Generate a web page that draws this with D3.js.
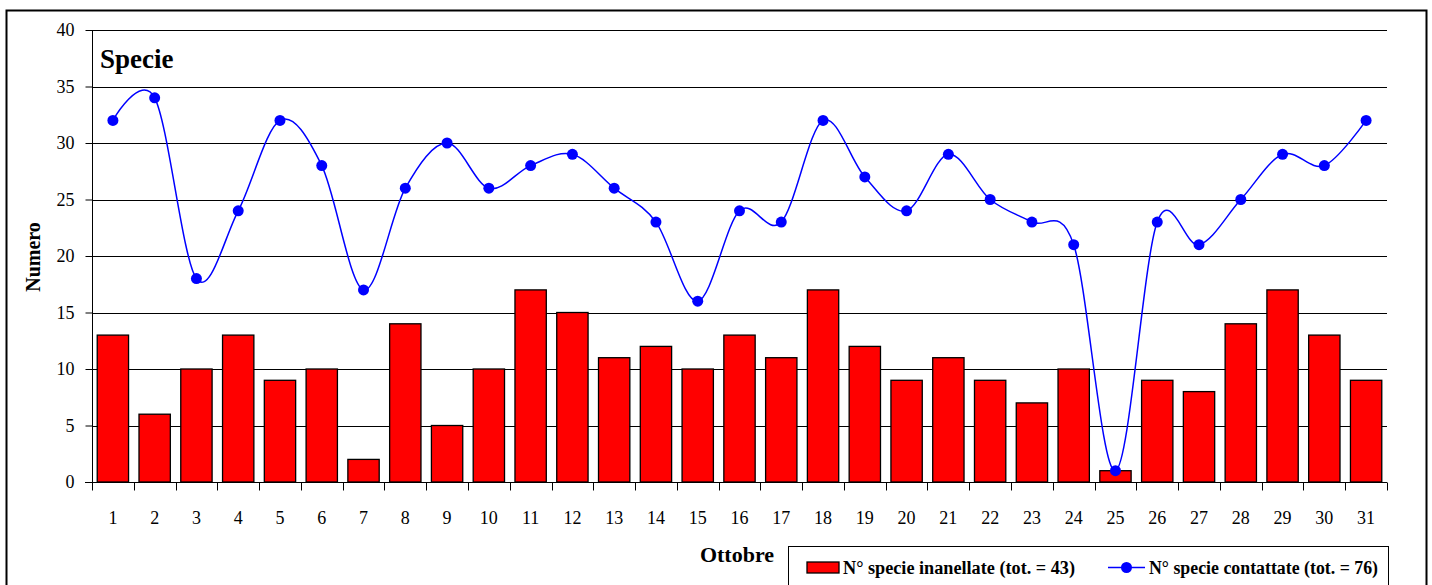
<!DOCTYPE html>
<html lang="it">
<head>
<meta charset="UTF-8">
<title>Specie - Ottobre</title>
<script src="https://d3js.org/d3.v7.min.js"></script>
<style>
    body, html {
        margin: 0;
        background: #fff;
    }
    svg text { font-family: "Times New Roman", "Liberation Serif", Times, serif; fill: #000; }
    .grid line { stroke: #000; stroke-width: 1; }
    .axis text { font-size: 18px; }
    .axis path, .axis line { stroke: #000; }
</style>
</head>
<body>
<script>
    // giorni di ottobre
    const days = d3.range(1, 32).map(String);
    // N° specie inanellate
    const inanellate = [13, 6, 10, 13, 9, 10, 2, 14, 5, 10, 17, 15, 11, 12, 10, 13, 11, 17, 12, 9, 11, 9, 7, 10, 1, 9, 8, 14, 17, 13, 9];
    // N° specie contattate
    const contattate = [32, 34, 18, 24, 32, 28, 17, 26, 30, 26, 28, 29, 26, 23, 16, 24, 23, 32, 27, 24, 29, 25, 23, 21, 1, 23, 21, 25, 29, 28, 32];
    const yTicks = [0, 5, 10, 15, 20, 25, 30, 35, 40];
    const legendLabels = ["N° specie inanellate (tot. = 43)", "N° specie contattate (tot. = 76)"];

    const W = 1432, H = 585;
    const pLeft = 92, pRight = 1387, pTop = 30, pBottom = 482;

    const svg = d3.select("body").append("svg")
        .attr("width", W).attr("height", H);

    // outer frame
    svg.append("rect")
        .attr("x", 6.5).attr("y", 10.5)
        .attr("width", 1420).attr("height", 600)
        .attr("fill", "none").attr("stroke", "#000").attr("stroke-width", 2);

    const x = d3.scaleBand().domain(days).range([pLeft, pRight]).paddingInner(0.25).paddingOuter(0.125);
    const xb = d3.scaleBand().domain(days).range([pLeft, pRight]);
    const y = d3.scaleLinear().domain([0, 40]).range([pBottom, pTop]);

    // gridlines
    svg.append("g").attr("class", "grid")
        .selectAll("line")
        .data(yTicks.filter(d => d > 0))
        .join("line")
        .attr("x1", pLeft).attr("x2", pRight)
        .attr("y1", d => Math.round(y(d)) + 0.5).attr("y2", d => Math.round(y(d)) + 0.5);

    // bars
    svg.append("g")
        .selectAll("rect")
        .data(inanellate)
        .join("rect")
        .attr("x", (d, i) => x(days[i]))
        .attr("y", d => y(d))
        .attr("width", x.bandwidth())
        .attr("height", d => y(0) - y(d))
        .attr("fill", "#ff0000")
        .attr("stroke", "#000")
        .attr("stroke-width", 1.3);

    // y axis
    const yAxis = svg.append("g").attr("class", "axis")
        .attr("transform", `translate(${pLeft + 0.5},0)`)
        .call(d3.axisLeft(y).tickValues(yTicks).tickSize(7).tickPadding(11).tickSizeOuter(0));
    yAxis.attr("font-family", null).attr("font-size", null);
    yAxis.select(".domain").attr("d", `M0,${pTop}V${pBottom}`);

    // x axis: ticks between categories
    const xAxis = svg.append("g").attr("class", "axis")
        .attr("transform", `translate(0,${pBottom + 0.5})`);
    xAxis.append("line").attr("x1", pLeft - 7).attr("x2", pRight).attr("stroke", "#000");
    xAxis.selectAll(".tk")
        .data(days.concat(["end"]))
        .join("line")
        .attr("class", "tk")
        .attr("x1", (d, i) => Math.round(pLeft + i * xb.step()) + 0.5)
        .attr("x2", (d, i) => Math.round(pLeft + i * xb.step()) + 0.5)
        .attr("y1", 0).attr("y2", 8)
        .attr("stroke", "#000");
    xAxis.selectAll(".lb")
        .data(days)
        .join("text")
        .attr("class", "lb")
        .attr("x", d => xb(d) + xb.bandwidth() / 2)
        .attr("y", 41)
        .attr("text-anchor", "middle")
        .text(d => d);

    // smoothed line
    const line = d3.line()
        .x((d, i) => xb(days[i]) + xb.bandwidth() / 2)
        .y(d => y(d))
        .curve(d3.curveCardinal.tension(0));
    svg.append("path")
        .datum(contattate)
        .attr("d", line)
        .attr("fill", "none")
        .attr("stroke", "#0000ff")
        .attr("stroke-width", 1.5);
    svg.append("g")
        .selectAll("circle")
        .data(contattate)
        .join("circle")
        .attr("cx", (d, i) => xb(days[i]) + xb.bandwidth() / 2)
        .attr("cy", d => y(d))
        .attr("r", 5.5)
        .attr("fill", "#0000ff");

    // title and axis titles
    svg.append("text")
        .attr("x", 100).attr("y", 68)
        .style("font-size", "27px").style("font-weight", "bold")
        .text("Specie");
    svg.append("text")
        .attr("transform", `translate(40,257) rotate(-90)`)
        .attr("text-anchor", "middle")
        .style("font-size", "20px").style("font-weight", "bold")
        .text("Numero");
    svg.append("text")
        .attr("x", 737).attr("y", 562)
        .attr("text-anchor", "middle")
        .style("font-size", "22px").style("font-weight", "bold")
        .text("Ottobre");

    // legend
    const lg = svg.append("g");
    lg.append("rect")
        .attr("x", 788.5).attr("y", 546.5)
        .attr("width", 600).attr("height", 60)
        .attr("fill", "#fff").attr("stroke", "#000").attr("stroke-width", 1);
    lg.append("rect")
        .attr("x", 807).attr("y", 562)
        .attr("width", 32).attr("height", 11)
        .attr("fill", "#ff0000").attr("stroke", "#000").attr("stroke-width", 1.3);
    lg.append("line")
        .attr("x1", 1108).attr("x2", 1145).attr("y1", 567.5).attr("y2", 567.5)
        .attr("stroke", "#0000ff").attr("stroke-width", 1.5);
    lg.append("circle")
        .attr("cx", 1126.5).attr("cy", 567.5).attr("r", 5.5).attr("fill", "#0000ff");
    lg.selectAll("text")
        .data(legendLabels)
        .join("text")
        .attr("x", (d, i) => i === 0 ? 843 : 1149)
        .attr("y", 574)
        .style("font-size", "18px").style("font-weight", "bold")
        .attr("textLength", (d, i) => i === 0 ? 232 : 229)
        .attr("lengthAdjust", "spacingAndGlyphs")
        .text(d => d);
</script>
</body>
</html>
